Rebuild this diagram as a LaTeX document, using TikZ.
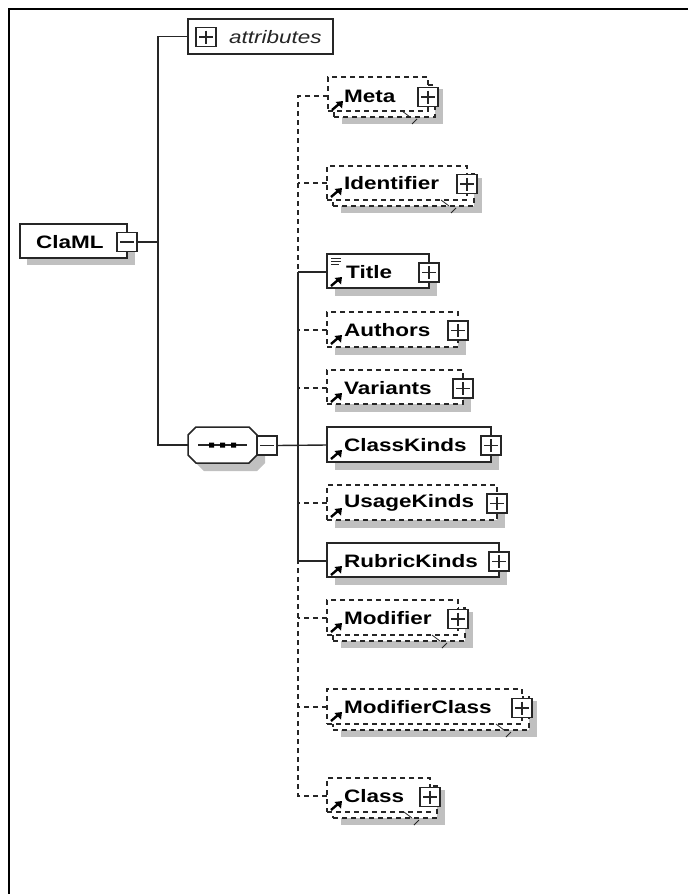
\documentclass[tikz,border=0pt]{standalone}
\usepackage{fontspec}
\newfontfamily\elfont[FakeStretch=1.25]{Liberation Sans}
\definecolor{ink}{HTML}{262626}
\definecolor{shadowgray}{HTML}{C0C0C0}
\tikzset{
  x=1pt,y=-1pt,
  conn/.style={draw=ink,line width=1.4pt},
  dashconn/.style={conn,dash pattern=on 5pt off 4pt},
  shadowbox/.style={fill=shadowgray,draw=none,inner sep=0pt,outer sep=0pt},
  solidbox/.style={draw=ink,fill=white,line width=1.5pt,inner sep=0pt,outer sep=0pt},
  dashbox/.style={solidbox,dash pattern=on 5pt off 4pt},
  anchorbox/.style={inner sep=0pt,outer sep=0pt},
  eltext/.style={anchor=west,inner sep=0pt,font=\elfont\bfseries\fontsize{18}{20}\selectfont,text=black},
  toggle/.style={draw=ink,fill=white,line width=1.5pt,minimum width=20pt,minimum height=19pt,inner sep=0pt,outer sep=0pt},
  minustoggle/.style={toggle,path picture={\draw[ink,line width=1.1pt] ([xshift=3pt]path picture bounding box.west)--([xshift=-3pt]path picture bounding box.east);}},
  plustoggle/.style={toggle,path picture={\draw[ink,line width=1.1pt] ([xshift=3pt]path picture bounding box.west)--([xshift=-3pt]path picture bounding box.east) ([yshift=-3pt]path picture bounding box.north)--([yshift=3pt]path picture bounding box.south);}},
}
% style, name, left, top, right, bottom
\newcommand{\boxat}[6]{%
  \pgfmathsetmacro{\bxw}{(#5)-(#3)}\pgfmathsetmacro{\bxh}{(#6)-(#4)}%
  \node[#1,minimum width=\bxw pt,minimum height=\bxh pt,anchor=north west] (#2) at (#3,#4) {};}
% left, connector y
\newcommand{\linkarrow}[2]{%
  \draw[black,line width=2.4pt] (#1+4,#2+14) -- (#1+11,#2+8);
  \fill[black] (#1+15,#2+5) -- (#1+7.5,#2+6) -- (#1+14,#2+12.5) -- cycle;}
% octagon outline: left, top, right, bottom
\newcommand{\octpath}[4]{(#1+8,#2) -- (#3-8,#2) -- (#3,#2+8) -- (#3,#4-8) -- (#3-8,#4) -- (#1+8,#4) -- (#1,#4-8) -- (#1,#2+8) -- cycle}
% name, style, left, top, right, bottom, cy, text, text x
\newcommand{\singleel}[9]{%
  \boxat{shadowbox}{#1S}{#3+8}{#4+8}{#5+8}{#6+8}
  \boxat{#2}{#1}{#3}{#4}{#5}{#6}
  \coordinate (#1C) at (#3,#7);
  \node[eltext] (#1L) at (#9,#7) {#8};
  \node[plustoggle] (#1T) at (#5,#7+0.5) {};
  \linkarrow{#3}{#7}}
% name, left, top, right, bottom, cy, text
\newcommand{\repeatel}[7]{%
  \boxat{shadowbox}{#1S}{#2+14}{#3+12}{#4+15}{#5+13}
  \boxat{dashbox}{#1B}{#2+6}{#3+8}{#4+7}{#5+6}
  \boxat{dashbox}{#1}{#2}{#3}{#4}{#5}
  \coordinate (#1C) at (#2,#6);
  \node[eltext] (#1L) at (344,#6) {#7};
  \node[plustoggle] (#1T) at (#4,#6+1) {};
  \linkarrow{#2}{#6}
  \draw[ink,line width=0.8pt] (#4-26,#5) -- (#4-18,#5+6);
  \draw[ink,line width=0.8pt] (#4-16,#5+13) -- (#4-11,#5+8);}
\begin{document}
\begin{tikzpicture}
\useasboundingbox (0,0) rectangle (688,894);
\fill[white] (0,0) rectangle (688,894);
\draw[black,line width=2pt] (9,894) -- (9,9) -- (688,9);

% root
\boxat{shadowbox}{claS}{27}{232}{135}{265}
\boxat{solidbox}{cla}{20}{224}{127}{258}
\node[eltext] (claL) at (36,242) {ClaML};
\node[minustoggle] (claT) at (127,242) {};

% attributes
\boxat{solidbox}{attr}{188}{19}{333}{54}
\node[plustoggle] (attrT) at (206,37) {};
\node[anchor=west,inner sep=0pt,font=\elfont\itshape\fontsize{18}{20}\selectfont,text=ink] (attrL) at (229,37) {attributes};

% sequence compositor
\fill[shadowgray] \octpath{196}{435}{265}{471};
\draw[ink,fill=white,line width=1.5pt] \octpath{188}{427}{257}{463};
\boxat{anchorbox}{seq}{188}{427}{257}{463}
\node[minustoggle] (seqT) at (267,445.5) {};
\draw[ink,line width=1.2pt] (198,445) -- (247,445);
\fill[black] (209,442.5) rectangle (214,447.5) (220,442.5) rectangle (225,447.5) (231,442.5) rectangle (236,447.5);

% children
\repeatel{meta}{328}{77}{428}{111}{96}{Meta}
\repeatel{ident}{327}{166}{467}{200}{183}{Identifier}
\singleel{title}{solidbox}{327}{254}{429}{288}{272}{Title}{346}
\singleel{authors}{dashbox}{327}{312}{458}{347}{330}{Authors}{344}
\singleel{variants}{dashbox}{327}{370}{463}{404}{388}{Variants}{344}
\singleel{classk}{solidbox}{327}{427}{491}{462}{445}{ClassKinds}{344}
\singleel{usagek}{dashbox}{327}{485}{497}{520}{503}{UsageKinds}{344}
\singleel{rubrick}{solidbox}{327}{543}{499}{577}{561}{RubricKinds}{344}
\repeatel{modif}{327}{600}{458}{635}{618}{Modifier}
\repeatel{modcl}{327}{689}{522}{724}{707}{ModifierClass}
\repeatel{classel}{327}{778}{430}{812}{796}{Class}

% title icon
\draw[ink,line width=0.8pt] (331,258) -- (341,258) (331,261) -- (341,261) (331,264) -- (339,264);

% connectors
\coordinate (rootJ) at (158,242);
\coordinate (seqJ) at (298,445);
\draw[conn] (claT.east) -- (rootJ);
\draw[conn] (attr.west) -| (rootJ);
\draw[conn] (seq.west) -| (rootJ);
\draw[conn] (seqT.east) -- (classkC);
\draw[conn] (titleC -| seqJ) -- (rubrickC -| seqJ);
\draw[conn] (titleC -| seqJ) -- (titleC);
\draw[conn] (rubrickC -| seqJ) -- (rubrickC);
\draw[dashconn] (metaC) -- (metaC -| seqJ) -- (titleC -| seqJ);
\draw[dashconn] (identC) -- (identC -| seqJ);
\draw[dashconn] (authorsC) -- (authorsC -| seqJ);
\draw[dashconn] (variantsC) -- (variantsC -| seqJ);
\draw[dashconn] (usagekC) -- (usagekC -| seqJ);
\draw[dashconn] (modifC) -- (modifC -| seqJ);
\draw[dashconn] (modclC) -- (modclC -| seqJ);
\draw[dashconn] (classelC) -- (classelC -| seqJ) -- (rubrickC -| seqJ);
\end{tikzpicture}
\end{document}
